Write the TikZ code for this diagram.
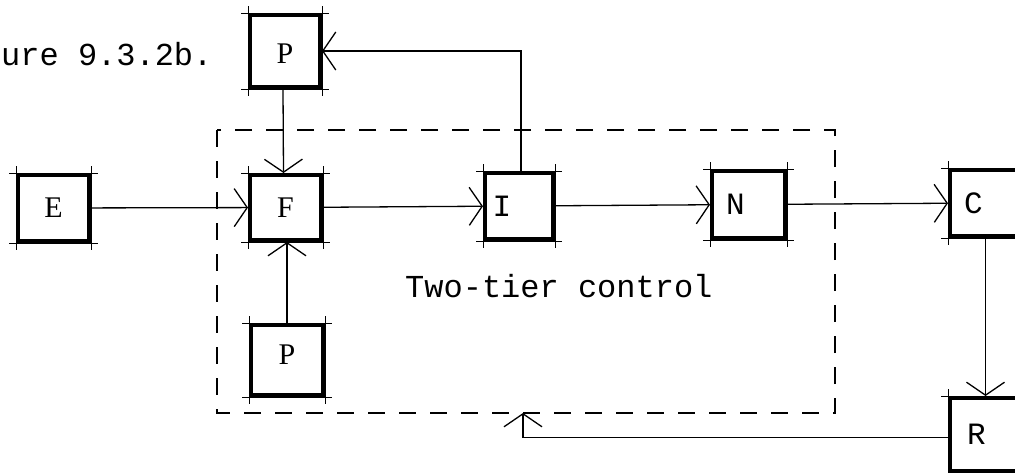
\documentclass[tikz,border=0pt]{standalone}
\usepackage{fontspec}
\setmainfont{Liberation Serif}
\newfontfamily\typew{Liberation Mono}
\newfontfamily\seriff{Liberation Serif}
\usetikzlibrary{arrows.meta}
\tikzset{
  blk/.style={draw, line width=4pt, rectangle, inner sep=0pt},
  serifl/.style={font=\seriff\fontsize{30}{30}\selectfont},
  monol/.style={font=\typew\fontsize{31}{31}\selectfont},
  conn/.style={line width=1.3pt, -{Straight Barb[length=13pt,width=38pt,line width=1.3pt]}},
  tickl/.style={line width=1pt},
  boundary/.style={line width=1.3pt, dash pattern=on 17pt off 14pt},
  caption/.style={font=\typew\fontsize{32}{32}\selectfont, anchor=base west, inner sep=0pt}
}
\begin{document}
\begin{tikzpicture}[x=1pt,y=-1pt]
\useasboundingbox (0,0) rectangle (1015,472);
% boundary
\draw[boundary] (217,130) rectangle (835,413);
% boxes
\node[blk, minimum width=70pt, minimum height=72pt, label={[serifl,yshift=-3pt]center:P}] (Ptop) at (285,51) {};
\node[blk, minimum width=71pt, minimum height=66pt, label={[serifl]center:E}] (E) at (53.5,208) {};
\node[blk, minimum width=71pt, minimum height=65pt, label={[serifl]center:F}] (F) at (285.5,207.5) {};
\node[blk, minimum width=68pt, minimum height=66pt, label={[monol,xshift=-17pt]center:I}] (I) at (519,206) {};
\node[blk, minimum width=73pt, minimum height=67pt, label={[monol,xshift=-13pt]center:N}] (N) at (748.5,204.5) {};
\node[blk, minimum width=71pt, minimum height=66pt, label={[monol,xshift=-12pt]center:C}] (C) at (985.5,203) {};
\node[blk, minimum width=71pt, minimum height=73pt, label={[monol,xshift=-9pt]center:R}] (R) at (985.5,434.5) {};
\node[blk, minimum width=72pt, minimum height=70pt, label={[serifl,yshift=5pt]center:P}] (Pbot) at (287,360) {};
% corner ticks
\foreach \n in {Ptop,E,F,I,N,C,R,Pbot} {
  \draw[tickl] ([xshift=-7pt]\n.north west) -- ([xshift=7pt]\n.north east);
  \draw[tickl] ([xshift=-7pt]\n.south west) -- ([xshift=7pt]\n.south east);
  \draw[tickl] ([yshift=7pt]\n.north west) -- ([yshift=-7pt]\n.south west);
  \draw[tickl] ([yshift=7pt]\n.north east) -- ([yshift=-7pt]\n.south east);
}
% connectors
\draw[conn] (E) -- (F);
\draw[conn] (F) -- (I);
\draw[conn] (I) -- (N);
\draw[conn] (N) -- (C);
\draw[conn] ([xshift=-2pt]Ptop.south) -- ([xshift=-2pt]F.north);
\draw[conn] (Pbot.north) -- (Pbot.north |- F.south);
\draw[conn] ([xshift=2pt]I.north) |- (Ptop.east);
\draw[conn] (C.south) -- (R.north);
\coordinate (fb) at (523,413);
\draw[conn] ([yshift=-3pt]R.west) -| (fb);
% texts
\node[caption] (fig) at (1,65) {ure 9.3.2b.};
\node[caption] (two) at (405,297) {Two-tier control};
\end{tikzpicture}
\end{document}
